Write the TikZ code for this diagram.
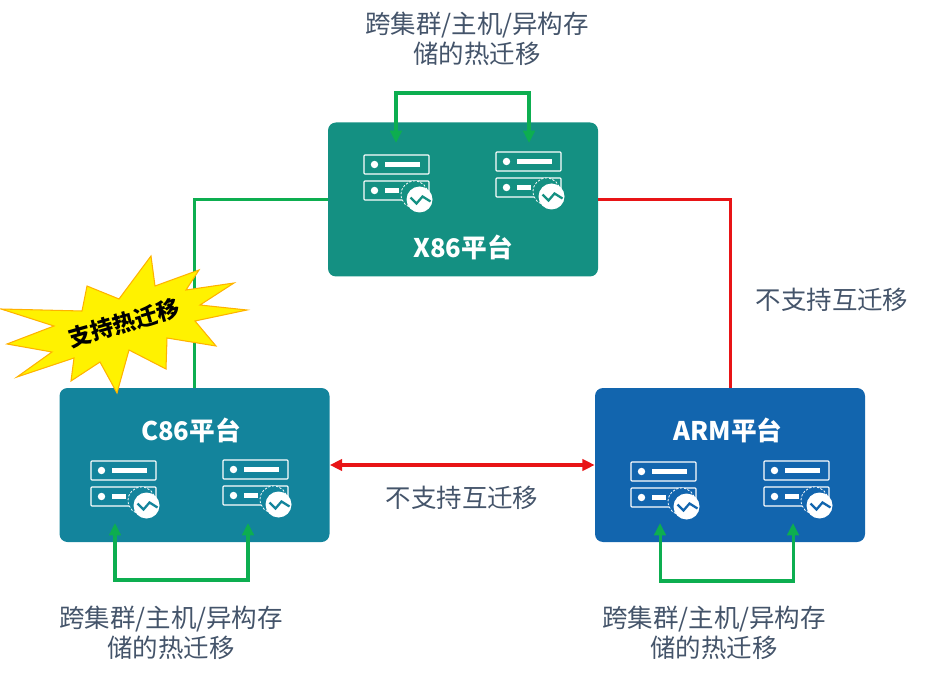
\documentclass[tikz,border=0pt]{standalone}
\usepackage{fontspec}
\setmainfont{Noto Sans CJK SC}
\definecolor{xcol}{HTML}{149082}
\definecolor{ccol}{HTML}{13849C}
\definecolor{acol}{HTML}{1265AE}
\definecolor{okgreen}{HTML}{0DAE50}
\definecolor{nored}{HTML}{E81416}
\definecolor{labelcol}{HTML}{44546A}
\usetikzlibrary{arrows.meta}
\tikzset{
    panel/.style={minimum width=270*0.02cm, minimum height=154*0.02cm, rounded corners=0.16cm,
                  text=white, font=\fontsize{14.6}{17}\selectfont\bfseries},
    note/.style={text=labelcol, align=center, font=\fontsize{14.5}{17}\selectfont},
    okline/.style={okgreen, line width=1.72pt},
    noline/.style={nored, line width=1.72pt},
    hop/.tip={Triangle[width=6.5pt,length=7pt]},
    srv/.pic={
        \draw[white, line width=0.6pt, rounded corners=0.5pt] (-32.5,-9.5) rectangle (32.5,9.5);
        \draw[white, line width=0.6pt, rounded corners=0.5pt] (-32.5,16.5) rectangle (32.5,35.5);
        \fill[white] (-22,0) circle (3.7) (-22,26) circle (3.7);
        \fill[white] (-12,-2.2) rectangle (23,2.2);
        \fill[white] (-12,23.8) rectangle (2,28.2);
        \draw[white, line width=0.45pt, dash pattern=on 1.3pt off 0.9pt, fill=#1] (18,30) circle (13.5);
        \fill[white] (23,35) circle (13);
        \draw[#1, line width=1.3pt] (14,33) -- (20,39) -- (26,32) -- (34,37);
    }
}

\begin{document}
\begin{tikzpicture}[x=0.02cm, y=-0.02cm]
    \useasboundingbox (0,0) rectangle (952,678);

    % platforms
    \node[panel, fill=xcol] (xpanel) at (463,199.5) {};
    \node[panel, fill=ccol] (cpanel) at (194.5,465) {};
    \node[panel, fill=acol] (apanel) at (730,465) {};
    \node[panel] (xname) at (463,247) {X86平台};
    \node[panel] (cname) at (191,430) {C86平台};
    \node[panel] (aname) at (728,430) {ARM平台};

    % servers
    \pic at (396.5,164.5) {srv=xcol};
    \pic at (528.5,161.5) {srv=xcol};
    \pic at (123.5,470.5) {srv=ccol};
    \pic at (255.5,469.5) {srv=ccol};
    \pic at (663.5,471.5) {srv=acol};
    \pic at (796.5,470.5) {srv=acol};

    % migration inside one platform
    \coordinate (xleft) at (396,143);
    \coordinate (xright) at (529,143);
    \coordinate (cleft) at (115,523);
    \coordinate (cright) at (248,523);
    \coordinate (aleft) at (660,523);
    \coordinate (aright) at (793,523);
    \draw[okline, hop-hop] (xleft) -- ++(0,-50) -| (xright);
    \draw[okline, hop-hop] (cleft) -- ++(0,57) -| (cright);
    \draw[okline, hop-hop] (aleft) -- ++(0,58) -| (aright);

    % links between platforms
    \draw[okline] (xpanel.west) -| (cpanel.north);
    \draw[noline] (xpanel.east) -| (apanel.north);
    \draw[noline, hop-hop] (cpanel.east) -- (apanel.west);

    % burst
    \draw[fill=yellow, draw=orange!60!yellow, line width=0.6pt]
        (1,309) -- (82,311) -- (87,286) -- (119,299) -- (151,256) -- (155,286)
        -- (199,270) -- (186,290) -- (234,283) -- (200,305) -- (247,310) -- (195,321)
        -- (216,346) -- (167,338) -- (166,369) -- (129,350) -- (117,393) -- (100,362)
        -- (71,381) -- (74,358) -- (17,377) -- (52,352) -- (7,344) -- (54,326) -- cycle;
    \node[rotate=16, font=\fontsize{13}{15}\selectfont\bfseries] (burst) at (124,323) {支持热迁移};

    % labels
    \node[note] (xnote) at (477,39) {跨集群/主机/异构存\\储的热迁移};
    \node[note] (cnote) at (171,633) {跨集群/主机/异构存\\储的热迁移};
    \node[note] (anote) at (714,633) {跨集群/主机/异构存\\储的热迁移};
    \node[note] (rnote) at (832,300) {不支持互迁移};
    \node[note] (mnote) at (462,498) {不支持互迁移};
\end{tikzpicture}
\end{document}
